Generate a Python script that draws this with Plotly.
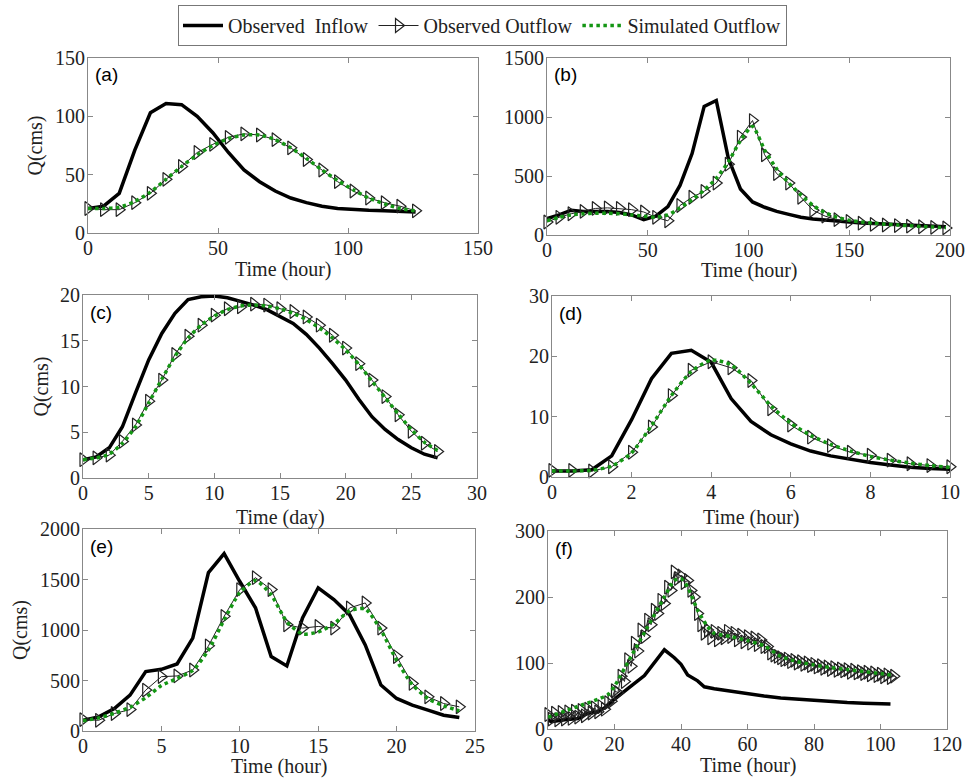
import plotly.graph_objects as go

# ---------------- data ----------------
# (a) 6-hour step
a_t = [0, 6, 12, 18, 24, 30, 36, 42, 48, 54, 60, 66, 72, 78, 84, 90, 96, 102, 108, 114, 120, 126]
a_in = [21, 23, 34, 71, 103, 111, 110, 100, 86, 69, 54, 44, 36, 30, 26, 23, 21, 20, 19.4, 19, 18.5, 18]
a_out = [21, 20, 20, 26, 34, 46, 57, 69, 76, 82, 85, 84, 80, 73, 63, 54, 44, 36, 30, 26, 23, 19]
a_sim = [21, 21, 22, 27, 35, 46, 57, 67, 75, 81, 84, 84, 80, 73, 64, 54, 45, 37, 30, 25, 21, 19]

# (b) 6-hour step
b_t = [0, 6, 12, 18, 24, 30, 36, 42, 48, 54, 60, 66, 72, 78, 84, 90, 96, 102, 108, 114,
       120, 126, 132, 138, 144, 150, 156, 162, 168, 174, 180, 186, 192, 198]
b_in = [140, 170, 210, 200, 200, 200, 190, 170, 130, 160, 240, 420, 690, 1090, 1140, 650, 390, 280, 235, 200,
        175, 150, 135, 125, 115, 108, 102, 98, 93, 88, 83, 78, 74, 70]
b_out = [110, 150, 180, 200, 225, 230, 225, 215, 195, 150, 120, 250, 320, 370, 440, 600, 830, 970, 680, 520,
         440, 320, 210, 160, 130, 115, 100, 90, 85, 80, 75, 70, 65, 60]
b_sim = [120, 150, 170, 180, 185, 185, 180, 170, 160, 150, 170, 230, 300, 380, 480, 620, 800, 920, 720, 560,
         440, 340, 250, 190, 150, 125, 110, 100, 92, 85, 78, 72, 67, 62]

# (c) 1-day step
c_t = list(range(28))
c_in = [2.0, 2.3, 3.3, 5.6, 9.3, 12.9, 15.8, 18.0, 19.5, 19.8, 19.9, 19.7, 19.3, 18.9,
        18.4, 17.7, 16.9, 15.7, 14.2, 12.5, 10.7, 8.6, 6.7, 5.3, 4.2, 3.3, 2.6, 2.2]
c_out = [2.0, 2.2, 2.5, 4.0, 5.8, 8.4, 10.7, 13.5, 15.5, 16.7, 17.8, 18.5, 18.7, 19.0,
         18.9, 18.5, 18.2, 17.6, 16.7, 15.6, 14.2, 12.5, 10.7, 8.9, 6.9, 5.1, 3.8, 2.9]
c_sim = [2.0, 2.2, 2.6, 3.8, 5.6, 8.2, 10.8, 13.3, 15.3, 16.7, 17.7, 18.4, 18.8, 18.9,
         18.8, 18.5, 18.0, 17.3, 16.4, 15.3, 14.0, 12.4, 10.6, 8.8, 7.0, 5.3, 3.9, 3.0]

# (d) 0.5-hour step
d_t = [0, 0.5, 1, 1.5, 2, 2.5, 3, 3.5, 4, 4.5, 5, 5.5, 6, 6.5, 7, 7.5, 8, 8.5, 9, 9.5, 10]
d_in = [1.0, 1.0, 1.2, 3.5, 9.5, 16.3, 20.5, 21.0, 19.0, 13.0, 9.2, 7.0, 5.5, 4.3, 3.5, 2.9, 2.4, 2.0, 1.6, 1.4, 1.3]
d_out = [1.1, 1.1, 1.0, 1.7, 4.1, 8.3, 13.5, 17.7, 19.1, 18.1, 16.0, 11.3, 8.6, 6.6, 5.2, 4.1, 3.6, 2.8, 2.2, 1.9, 1.7]
d_sim = [1.0, 1.0, 1.1, 1.8, 4.0, 8.5, 13.5, 17.5, 19.4, 18.6, 15.5, 11.8, 8.9, 6.9, 5.4, 4.3, 3.4, 2.8, 2.3, 1.9, 1.6]

# (e) 1-hour step
e_t = list(range(25))
e_in = [106, 140, 222, 355, 588, 611, 664, 920, 1568, 1757, 1480, 1220, 737, 644, 1120, 1418, 1302, 1152, 853,
        455, 322, 256, 206, 156, 133]
e_out = [113, 106, 173, 212, 405, 538, 545, 604, 843, 1135, 1400, 1518, 1400, 1052, 1019, 1035, 1019, 1218, 1268,
         1019, 737, 471, 338, 272, 239]
e_sim = [100, 130, 175, 235, 330, 450, 520, 600, 800, 1100, 1370, 1490, 1350, 1080, 960, 980, 1060, 1190, 1210,
         1000, 700, 460, 320, 250, 200]

# (f) inflow / simulated at read knots, observed outflow hourly
f_in_t = [0, 1, 5, 9, 12, 15, 17, 19, 24, 29, 35, 38, 40, 42, 45, 47, 50, 55, 59, 65, 70, 75, 80, 85, 90, 95, 100, 103]
f_in = [14, 11, 14, 16, 24, 26, 32, 41, 61, 81, 120, 108, 98, 82, 73, 64, 61, 57, 54, 50, 47, 45, 43, 42, 40, 39, 38, 38]
f_out_t = list(range(105))
f_out = [22, 15, 24, 14, 25, 15, 26, 16, 27, 18, 28, 20, 30, 24, 32, 26, 34, 30, 40, 42,
         58, 55, 80, 72, 105, 95, 130, 118, 150, 140, 165, 158, 180, 175, 195, 190, 215, 210, 238, 228,
         232, 222, 225, 210, 200, 175, 158, 145, 150, 138, 148, 135, 145, 138, 148, 140, 145, 135, 142, 132,
         140, 130, 138, 128, 135, 125, 125, 115, 112, 110, 108, 105, 106, 102, 104, 100, 102, 98, 100, 96,
         98, 94, 96, 92, 94, 90, 93, 89, 91, 88, 90, 86, 89, 85, 87, 84, 86, 82, 85, 81,
         83, 79, 82, 78, 80]
f_sim_t = [0, 5, 10, 15, 18, 20, 25, 30, 35, 38, 40, 42, 45, 48, 50, 55, 60, 65, 70, 75, 80, 85, 90, 95, 100, 104]
f_sim = [18, 27, 36, 45, 52, 65, 110, 155, 200, 225, 228, 215, 180, 155, 145, 140, 134, 126, 110, 102, 97, 93, 90, 87, 84, 81]

panels = [
    dict(inflow=a_in, out=a_out, sim=a_sim, in_t=a_t, sim_t=a_t, out_t=a_t,
         xr=[0, 150], xd=50, yr=[0, 150], yd=50, xt="Time (hour)", xo=36, yt=53, lab="(a)",
         box=(88, 478, 58, 233)),
    dict(inflow=b_in, out=b_out, sim=b_sim, in_t=b_t, sim_t=b_t, out_t=b_t,
         xr=[0, 200], xd=50, yr=[0, 1500], yd=500, xt="Time (hour)", xo=35, yt=None, lab="(b)",
         box=(547, 950, 58, 235)),
    dict(inflow=c_in, out=c_out, sim=c_sim, in_t=c_t, sim_t=c_t, out_t=c_t,
         xr=[0, 30], xd=5, yr=[0, 20], yd=5, xt="Time (day)", xo=39, yt=42, lab="(c)",
         box=(83, 477, 295, 478)),
    dict(inflow=d_in, out=d_out, sim=d_sim, in_t=d_t, sim_t=d_t, out_t=d_t,
         xr=[0, 10], xd=2, yr=[0, 30], yd=10, xt="Time (hour)", xo=40, yt=None, lab="(d)",
         box=(552, 950, 296, 477)),
    dict(inflow=e_in, out=e_out, sim=e_sim, in_t=e_t, sim_t=e_t, out_t=e_t,
         xr=[0, 25], xd=5, yr=[0, 2000], yd=500, xt="Time (hour)", xo=35, yt=63, lab="(e)",
         box=(83, 475, 529, 731)),
    dict(inflow=f_in, out=f_out, sim=f_sim, in_t=f_in_t, sim_t=f_sim_t, out_t=f_out_t,
         xr=[0, 120], xd=20, yr=[0, 300], yd=100, xt="Time (hour)", xo=36, yt=None, lab="(f)",
         box=(548, 947, 531, 729)),
]

W, H = 965, 781
SERIF = "Liberation Serif, Times New Roman, serif"
GREEN = "rgb(20,150,20)"
TXT = "#222222"
fig = go.Figure()
annotations = []

for i, p in enumerate(panels):
    n = "" if i == 0 else str(i + 1)
    xa, ya = "x" + n, "y" + n
    show = (i == 0)
    fig.add_trace(go.Scatter(x=p["in_t"], y=p["inflow"], mode="lines", name="Observed\u00a0 Inflow",
                             line=dict(color="black", width=3.5), xaxis=xa, yaxis=ya,
                             showlegend=show, legendgroup="in", cliponaxis=False))
    fig.add_trace(go.Scatter(x=p["out_t"], y=p["out"], mode="lines+markers", name="Observed Outflow",
                             line=dict(color=TXT, width=1),
                             marker=dict(symbol="triangle-right-open", size=12,
                                         color=TXT, line=dict(width=1.2, color=TXT)),
                             xaxis=xa, yaxis=ya, showlegend=show, legendgroup="out", cliponaxis=False))
    fig.add_trace(go.Scatter(x=p["sim_t"], y=p["sim"], mode="lines", name="Simulated Outflow",
                             line=dict(color=GREEN, width=3.5, dash="dot", shape="spline", smoothing=0.6),
                             xaxis=xa, yaxis=ya, showlegend=show, legendgroup="sim", cliponaxis=False))
    x0, x1, y0, y1 = p["box"]
    common = dict(showline=True, linecolor="#888888", linewidth=1, mirror="ticks", ticks="inside",
                  ticklen=5, tickcolor="#888888", showgrid=False, zeroline=False, automargin=False,
                  tickfont=dict(family=SERIF, size=20, color=TXT))
    fig.layout["xaxis" + n] = dict(domain=[x0 / W, x1 / W], range=p["xr"], dtick=p["xd"], tick0=0,
                                   anchor=ya, ticklabelstandoff=-3, **common)
    fig.layout["yaxis" + n] = dict(domain=[1 - y1 / H, 1 - y0 / H], range=p["yr"], dtick=p["yd"], tick0=0,
                                   anchor=xa, ticklabelstandoff=-2, **common)
    # panel label
    annotations.append(dict(text=p["lab"], xref=xa + " domain", yref=ya + " domain", x=0.012, y=0.975,
                            xanchor="left", yanchor="top", showarrow=False,
                            font=dict(family="Liberation Sans, Arial, sans-serif", size=19, color="black")))
    # x-axis title
    annotations.append(dict(text=p["xt"], xref=xa + " domain", yref=ya + " domain", x=0.5, y=0,
                            xanchor="center", yanchor="middle", yshift=-p["xo"], showarrow=False,
                            font=dict(family=SERIF, size=20, color=TXT)))
    # y-axis title
    if p["yt"]:
        annotations.append(dict(text="Q(cms)", xref=xa + " domain", yref=ya + " domain", x=0, y=0.5,
                                xanchor="center", yanchor="middle", xshift=-p["yt"], textangle=-90,
                                showarrow=False, font=dict(family=SERIF, size=20, color=TXT)))

fig.update_layout(
    width=W, height=H, margin=dict(l=0, r=0, t=0, b=0, autoexpand=False),
    paper_bgcolor="white", plot_bgcolor="white",
    annotations=annotations,
    legend=dict(orientation="h", x=0.5, xanchor="center", y=1 - 5 / H, yanchor="top",
                bordercolor="#777777", borderwidth=1, bgcolor="white",
                font=dict(family=SERIF, size=20, color=TXT),
                itemwidth=40, tracegroupgap=0),
)

fig.write_html("out.html", config={"displayModeBar": False},
               post_script="document.body.style.margin='0';")
